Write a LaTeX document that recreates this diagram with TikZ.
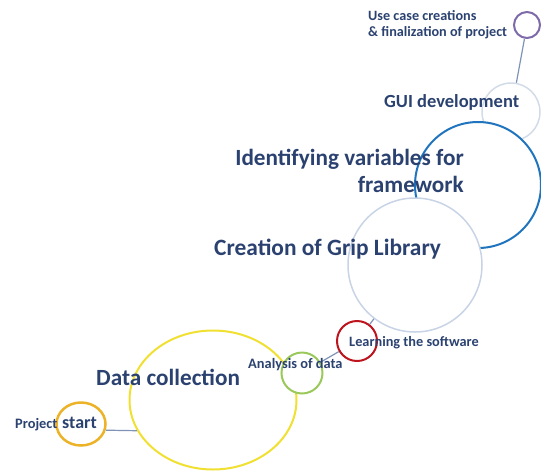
\documentclass[tikz,border=0pt]{standalone}
\usepackage{fontspec}
\setmainfont{Carlito}
\usepackage{xcolor}
\usepackage{tikz}
\usetikzlibrary{shapes.geometric, positioning}

\definecolor{txtblue}{RGB}{43,66,112}
\definecolor{linkblue}{RGB}{127,147,182}
\definecolor{startorange}{RGB}{236,178,40}
\definecolor{datayellow}{RGB}{240,224,50}
\definecolor{anagreen}{RGB}{155,200,90}
\definecolor{learnred}{RGB}{190,20,30}
\definecolor{gripgray}{RGB}{200,212,230}
\definecolor{identblue}{RGB}{31,116,189}
\definecolor{guigray}{RGB}{210,220,232}
\definecolor{usepurple}{RGB}{126,106,168}

\tikzset{
  stage/.style={circle, draw, fill=white, inner sep=0pt, line width=2pt},
  oval/.style={ellipse, draw, fill=white, inner sep=0pt, line width=2pt},
  lbl/.style={text=txtblue, font=\bfseries, inner sep=0pt},
  link/.style={draw=linkblue, line width=1.2pt}
}

\begin{document}
\begin{tikzpicture}[x=1pt, y=-1pt]
  \useasboundingbox (0,0) rectangle (541,472);
  % stages, back to front
  \node[stage, draw=usepurple, minimum size=26pt] (usecase) at (527,25) {};
  \node[stage, draw=guigray, minimum size=58pt, line width=1.5pt] (gui) at (511,112) {};
  \node[stage, draw=identblue, minimum size=126pt] (identvar) at (478,185) {};
  \node[stage, draw=gripgray, minimum size=134pt, line width=1.5pt] (griplib) at (415,265) {};
  \node[stage, draw=learnred, minimum size=40pt] (learning) at (357,341) {};
  \node[oval, draw=datayellow, minimum width=167pt, minimum height=139pt] (datacol) at (213,400) {};
  \node[stage, draw=anagreen, minimum size=41pt] (analysis) at (302,373) {};
  \node[oval, draw=startorange, minimum width=49pt, minimum height=43pt, line width=2.5pt] (start) at (81,424) {};

  % links
  \draw[link] (start.-14) -- (datacol.202);
  \draw[link] (analysis) -- (learning);
  \draw[link] (learning) -- (griplib);
  \draw[link] (gui) -- (usecase);

  % labels
  \node[lbl, anchor=base west, font=\bfseries\fontsize{14.4}{17}\selectfont] (projtxt) at (15,428) {Project};
  \node[lbl, anchor=base west, font=\bfseries\fontsize{18}{21}\selectfont] (starttxt) at (62,428) {start};
  \node[lbl, anchor=base west, font=\bfseries\fontsize{23.2}{27}\selectfont] (datatxt) at (96,385) {Data collection};
  \node[lbl, anchor=base west, font=\bfseries\fontsize{14.4}{17}\selectfont] (anatxt) at (248,368) {Analysis of data};
  \node[lbl, anchor=base west, font=\bfseries\fontsize{14.3}{17}\selectfont] (learntxt) at (349,346) {Learning the software};
  \node[lbl, anchor=base west, font=\bfseries\fontsize{23.4}{27}\selectfont] (griptxt) at (214,255) {Creation of Grip Library};
  \node[lbl, anchor=base east, font=\bfseries\fontsize{23.2}{27}\selectfont, align=right] (identtxt) at (464,192) {Identifying variables for\\framework};
  \node[lbl, anchor=base west, font=\bfseries\fontsize{18.5}{22}\selectfont] (guitxt) at (384,107) {GUI development};
  \node[lbl, anchor=base west, font=\bfseries\fontsize{14.2}{16}\selectfont, align=left] (usetxt) at (368,36) {Use case creations\\\& finalization of project};
\end{tikzpicture}
\end{document}
